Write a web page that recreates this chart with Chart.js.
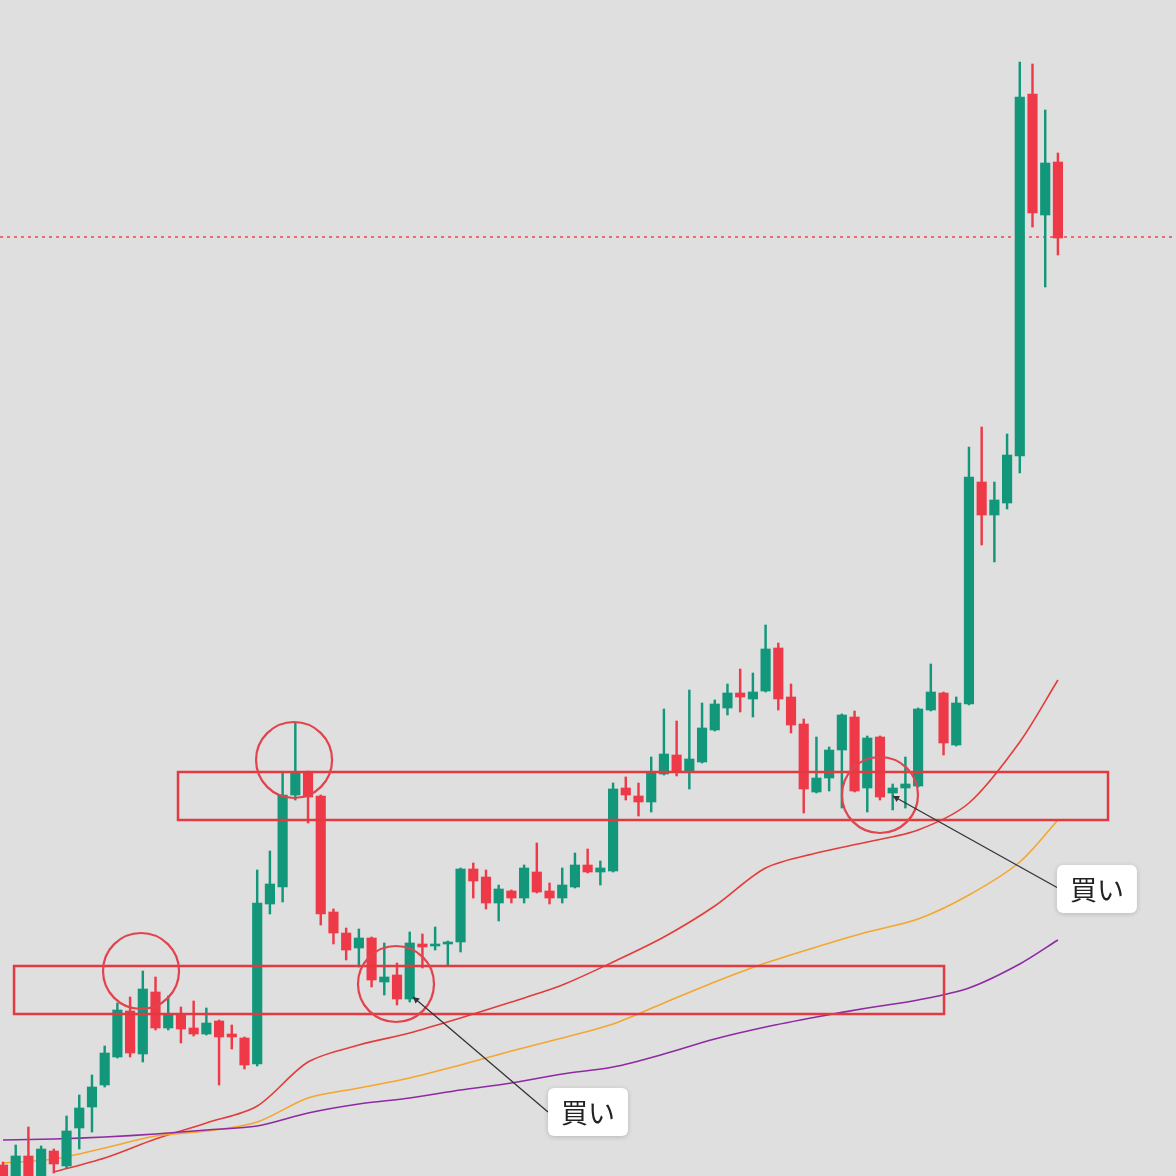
<!DOCTYPE html>
<html>
<head>
<meta charset="utf-8">
<script src="https://cdn.jsdelivr.net/npm/chart.js@4.4.1/dist/chart.umd.min.js"></script>
<style>
  html, body { margin: 0; padding: 0; background: #dfdfdf; }
  canvas { display: block; }
</style>
</head>
<body>
<canvas id="chart" width="1176" height="1176"></canvas>
<script>
// candles, one per bar (price units)
var openP  = [11,-4,20,-4,25,10,48,69,91,119, 165,122,184,148,161,148,142,155,142,138,
              112,272,289,381,404,380,264,243,228,238, 194,201,177,232,230,232,234,307,299,273,
              285,278,304,285,278,289,311,304,305,388, 380,374,402,421,405,414,446,468,483,477,
              485,528,479,452,384,398,426,459,388,439, 383,388,390,466,483,431,472,694,661,673,
              720,1082,961,1014];
var closeP = [-4,20,-4,27,12,45,68,89,123,166, 123,187,148,161,147,142,153,139,139,111,
              273,292,381,403,379,262,243,226,238,196, 199,177,233,229,232,234,307,295,273,287,
              278,308,284,278,291,311,304,308,387,381, 374,404,422,404,417,448,472,483,479,484,
              527,477,451,387,398,426,461,385,438,379, 388,392,467,484,433,473,699,661,676,721,
              1079,963,1013,938];
var highP  = [14,31,49,30,27,60,81,101,130,173, 179,205,199,180,169,175,168,156,151,139,
              306,325,404,453,405,381,267,248,247,239, 233,213,244,242,249,235,308,313,306,291,
              286,311,333,293,308,323,327,315,393,399, 393,419,467,455,486,473,476,492,507,503,
              551,533,492,457,439,429,462,465,440,440, 392,419,468,512,484,479,729,749,694,742,
              1114,1112,1066,1023];
var lowP   = [-9,-6,-6,-6,3,8,27,44,89,118, 119,114,146,146,133,140,141,91,127,107,
              110,262,274,376,353,251,232,216,209,189, 181,171,174,208,226,211,224,278,267,255,
              273,273,283,272,273,288,303,291,304,376, 360,364,401,400,387,413,445,461,464,459,
              484,466,443,363,383,385,368,384,364,376, 366,368,389,465,421,430,471,631,614,667,
              703,949,889,921];

// moving averages, read every 4th candle
var maIndex  = [0,4,8,12,16,20,24,28,32,36,40,44,48,52,56,60,64,68,72,76,80,83];
var maRed    = [null,4,18,37,53,70,114,131,143,158,174,191,214,239,270,308,323,334,346,373,434,496];
var maOrange = [13,17,28,40,45,54,78,88,98,111,125,138,152,173,194,213,229,244,257,281,314,356];
var maPurple = [36,37,39,42,46,50,63,72,78,86,93,102,109,122,137,149,159,168,176,188,212,236];

// drawn notes: zones [x0, x1, lowPrice, highPrice], circles [x, price], arrows, labels
var zones   = [[0.87, 74.04, 162, 210], [13.77, 86.94, 356, 404]];
var circles = [[10.86, 205], [22.9, 416], [30.92, 192], [69.0, 381]];
var arrows  = [[32.26, 179, 42.88, 64], [70.02, 380, 83.0, 288]];
var labels  = [[46.03, 64, '買い'], [86.07, 287, '買い']];
var lastPrice = 939;

var UP = '#12977b';
var DOWN = '#ee3a48';

function candleColor(i) {
  return closeP[i] >= openP[i] ? UP : DOWN;
}

function maPoints(values) {
  var pts = [];
  for (var i = 0; i < maIndex.length; i++) {
    if (values[i] !== null) pts.push({ x: maIndex[i], y: values[i] });
  }
  return pts;
}

var notes = {
  id: 'notes',
  beforeDraw: function(chart) {
    var ctx = chart.ctx;
    ctx.save();
    ctx.fillStyle = '#dfdfdf';
    ctx.fillRect(0, 0, chart.width, chart.height);
    ctx.restore();
  },
  beforeDatasetsDraw: function(chart) {
    // last price line
    var ctx = chart.ctx, y = Math.round(chart.scales.y.getPixelForValue(lastPrice));
    ctx.save();
    ctx.strokeStyle = '#f04848';
    ctx.lineWidth = 1.5;
    ctx.setLineDash([3, 4]);
    ctx.beginPath();
    ctx.moveTo(0, y);
    ctx.lineTo(chart.width, y);
    ctx.stroke();
    ctx.restore();
  },
  afterDatasetsDraw: function(chart) {
    var ctx = chart.ctx, xs = chart.scales.x, ys = chart.scales.y;
    ctx.save();

    // zones
    ctx.strokeStyle = '#e33a42';
    ctx.lineWidth = 2.5;
    zones.forEach(function(z) {
      var x0 = xs.getPixelForValue(z[0]), x1 = xs.getPixelForValue(z[1]);
      var y0 = ys.getPixelForValue(z[3]), y1 = ys.getPixelForValue(z[2]);
      ctx.strokeRect(x0, y0, x1 - x0, y1 - y0);
    });

    // circles
    ctx.strokeStyle = '#e2434d';
    ctx.lineWidth = 2.2;
    circles.forEach(function(c) {
      ctx.beginPath();
      ctx.arc(xs.getPixelForValue(c[0]), ys.getPixelForValue(c[1]), 38, 0, Math.PI * 2);
      ctx.stroke();
    });

    // arrows
    ctx.strokeStyle = '#333';
    ctx.fillStyle = '#333';
    ctx.lineWidth = 1.3;
    arrows.forEach(function(a) {
      var ax = xs.getPixelForValue(a[0]), ay = ys.getPixelForValue(a[1]);
      var bx = xs.getPixelForValue(a[2]), by = ys.getPixelForValue(a[3]);
      ctx.beginPath();
      ctx.moveTo(bx, by);
      ctx.lineTo(ax, ay);
      ctx.stroke();
      var ang = Math.atan2(ay - by, ax - bx);
      ctx.beginPath();
      ctx.moveTo(ax, ay);
      ctx.lineTo(ax - 7 * Math.cos(ang - 0.5), ay - 7 * Math.sin(ang - 0.5));
      ctx.lineTo(ax - 7 * Math.cos(ang + 0.5), ay - 7 * Math.sin(ang + 0.5));
      ctx.closePath();
      ctx.fill();
    });

    // labels
    labels.forEach(function(l) {
      var cx = xs.getPixelForValue(l[0]), cy = ys.getPixelForValue(l[1]);
      var w = 80, h = 48;
      ctx.save();
      ctx.shadowColor = 'rgba(0,0,0,0.18)';
      ctx.shadowBlur = 5;
      ctx.shadowOffsetY = 1;
      ctx.fillStyle = '#ffffff';
      ctx.beginPath();
      ctx.roundRect(cx - w / 2, cy - h / 2, w, h, 6);
      ctx.fill();
      ctx.restore();
      ctx.fillStyle = '#222';
      ctx.font = '27px "Noto Sans CJK JP"';
      ctx.textAlign = 'center';
      ctx.textBaseline = 'middle';
      ctx.fillText(l[2], cx, cy + 1);
    });

    ctx.restore();
  }
};

var wickData = [], bodyData = [], colors = [];
for (var i = 0; i < openP.length; i++) {
  wickData.push({ x: i, y: [lowP[i], highP[i]] });
  bodyData.push({ x: i, y: [openP[i], closeP[i]] });
  colors.push(candleColor(i));
}

var chart = new Chart(document.getElementById('chart').getContext('2d'), {
  type: 'bar',
  data: {
    datasets: [
      { type: 'line', data: maPoints(maPurple), borderColor: '#8f2aa3', borderWidth: 1.6, pointRadius: 0, tension: 0.3, order: 3 },
      { type: 'line', data: maPoints(maOrange), borderColor: '#f4a62e', borderWidth: 1.6, pointRadius: 0, tension: 0.3, order: 3 },
      { type: 'line', data: maPoints(maRed), borderColor: '#e23d3a', borderWidth: 1.6, pointRadius: 0, tension: 0.3, order: 3 },
      { data: wickData, backgroundColor: colors, barThickness: 1.8, grouped: false, order: 1 },
      { data: bodyData, backgroundColor: colors, barThickness: 9.5, grouped: false, order: 0 }
    ]
  },
  options: {
    responsive: false,
    animation: false,
    devicePixelRatio: 1,
    layout: { padding: 0 },
    plugins: { legend: { display: false }, tooltip: { enabled: false } },
    scales: {
      x: { type: 'linear', display: false, offset: false, bounds: 'ticks', min: -0.236, max: 92.29 },
      y: { display: false, min: 0, max: 1176 }
    }
  },
  plugins: [notes]
});
</script>
</body>
</html>
